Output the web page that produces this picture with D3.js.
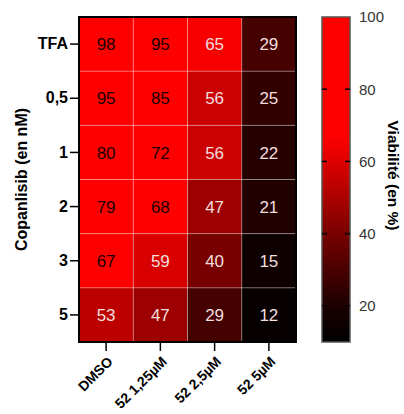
<!DOCTYPE html>
<html><head><meta charset="utf-8">
<script src="https://cdn.jsdelivr.net/npm/d3@7"></script>
<style>body{margin:0;background:#fff}svg{display:block}text{font-family:"Liberation Sans",Arial,sans-serif}</style>
</head><body>
<svg id="c" width="404" height="414"></svg>
<script>
const rows = ["TFA","0,5","1","2","3","5"];
const cols = ["DMSO","52 1,25µM","52 2,5µM","52 5µM"];
const values = [
  [98,95,65,29],
  [95,85,56,25],
  [80,72,56,22],
  [79,68,47,21],
  [67,59,40,15],
  [53,47,29,12]
];
const colorTicks = [20,40,60,80,100];
const colorDomain = [10,100];
const colorStops = [10,20,40,55,67];
const colorRange = ["#000000","#1c0000","#780000","#c60000","#ff0000"];

const svg = d3.select("#c");
const L=79, R=296, T=17, B=342;
const x = d3.scaleBand().domain(cols).range([L,R]);
const y = d3.scaleBand().domain(rows).range([T,B]);
const color = d3.scaleLinear().domain(colorStops).range(colorRange).clamp(true);

const cells=[];
values.forEach((r,i)=>r.forEach((v,j)=>cells.push({row:rows[i],col:cols[j],v})));

svg.append("g").selectAll("rect").data(cells).join("rect")
  .attr("x",d=>x(d.col)).attr("y",d=>y(d.row))
  .attr("width",x.bandwidth()).attr("height",y.bandwidth())
  .attr("fill",d=>color(d.v));
const g=svg.append("g").attr("stroke","rgba(255,255,255,0.35)").attr("stroke-width",1);
rows.slice(1).forEach(r=>g.append("line").attr("x1",L).attr("x2",R).attr("y1",y(r)).attr("y2",y(r)));
cols.slice(1).forEach(c=>g.append("line").attr("y1",T).attr("y2",B).attr("x1",x(c)).attr("x2",x(c)));

svg.append("g").selectAll("text").data(cells).join("text")
  .attr("x",d=>x(d.col)+x.bandwidth()/2).attr("y",d=>y(d.row)+y.bandwidth()/2)
  .attr("text-anchor","middle").attr("dy","0.36em").attr("font-size",17)
  .attr("fill",d=>d.v>=66?"#1a0000":"#f2dede").text(d=>d.v);

svg.append("rect").attr("x",L).attr("y",T).attr("width",R-L).attr("height",B-T)
  .attr("fill","none").attr("stroke","#000").attr("stroke-width",2);

const ya=svg.append("g").attr("transform",`translate(${L-1},0)`).call(d3.axisLeft(y).tickSize(8).tickPadding(2));
ya.select(".domain").remove();
ya.selectAll("line").attr("stroke","#000").attr("stroke-width",1.5);
ya.selectAll("text").attr("font-size",16).attr("font-weight","bold").attr("fill","#000");

const xa=svg.append("g").attr("transform",`translate(0,${B+1})`).call(d3.axisBottom(x).tickSize(8));
xa.select(".domain").remove();
xa.selectAll("line").attr("stroke","#000").attr("stroke-width",1.5);
xa.selectAll("text").attr("font-size",14).attr("font-weight","bold").attr("fill","#000")
  .attr("x",0).attr("y",0).attr("dy","0.35em")
  .attr("text-anchor","end").attr("transform","translate(4,16) rotate(-45)");

svg.append("text").attr("transform",`translate(27,${(T+B)/2}) rotate(-90)`)
  .attr("text-anchor","middle").attr("font-size",16).attr("font-weight","bold").text("Copanlisib (en nM)");

const cbL=322, cbW=28;
const cy=d3.scaleLinear().domain(colorDomain).range([B,T]);
const defs=svg.append("defs");
const grad=defs.append("linearGradient").attr("id","gr").attr("x1",0).attr("x2",0).attr("y1",1).attr("y2",0);
d3.range(0,1.0001,0.02).forEach(t=>{
  const v=colorDomain[0]+t*(colorDomain[1]-colorDomain[0]);
  grad.append("stop").attr("offset",t).attr("stop-color",color(v));
});
svg.append("rect").attr("x",cbL).attr("y",T).attr("width",cbW).attr("height",B-T)
  .attr("fill","url(#gr)").attr("stroke","#555").attr("stroke-width",1.5);
const ct=svg.append("g");
colorTicks.forEach(t=>{
  if(t<100){
    ct.append("line").attr("x1",cbL).attr("x2",cbL+5).attr("y1",cy(t)).attr("y2",cy(t)).attr("stroke","#000").attr("stroke-width",1.5);
    ct.append("line").attr("x1",cbL+cbW-5).attr("x2",cbL+cbW).attr("y1",cy(t)).attr("y2",cy(t)).attr("stroke","#000").attr("stroke-width",1.5);
  }
  ct.append("text").attr("x",cbL+cbW+9).attr("y",cy(t)).attr("dy","0.36em").attr("font-size",15).attr("fill","#333").text(t);
});
svg.append("text").attr("transform",`translate(388,${(T+B)/2 - 4}) rotate(90)`)
  .attr("text-anchor","middle").attr("font-size",15.5).attr("font-weight","bold").text("Viabilité (en %)");
</script>
</body></html>
